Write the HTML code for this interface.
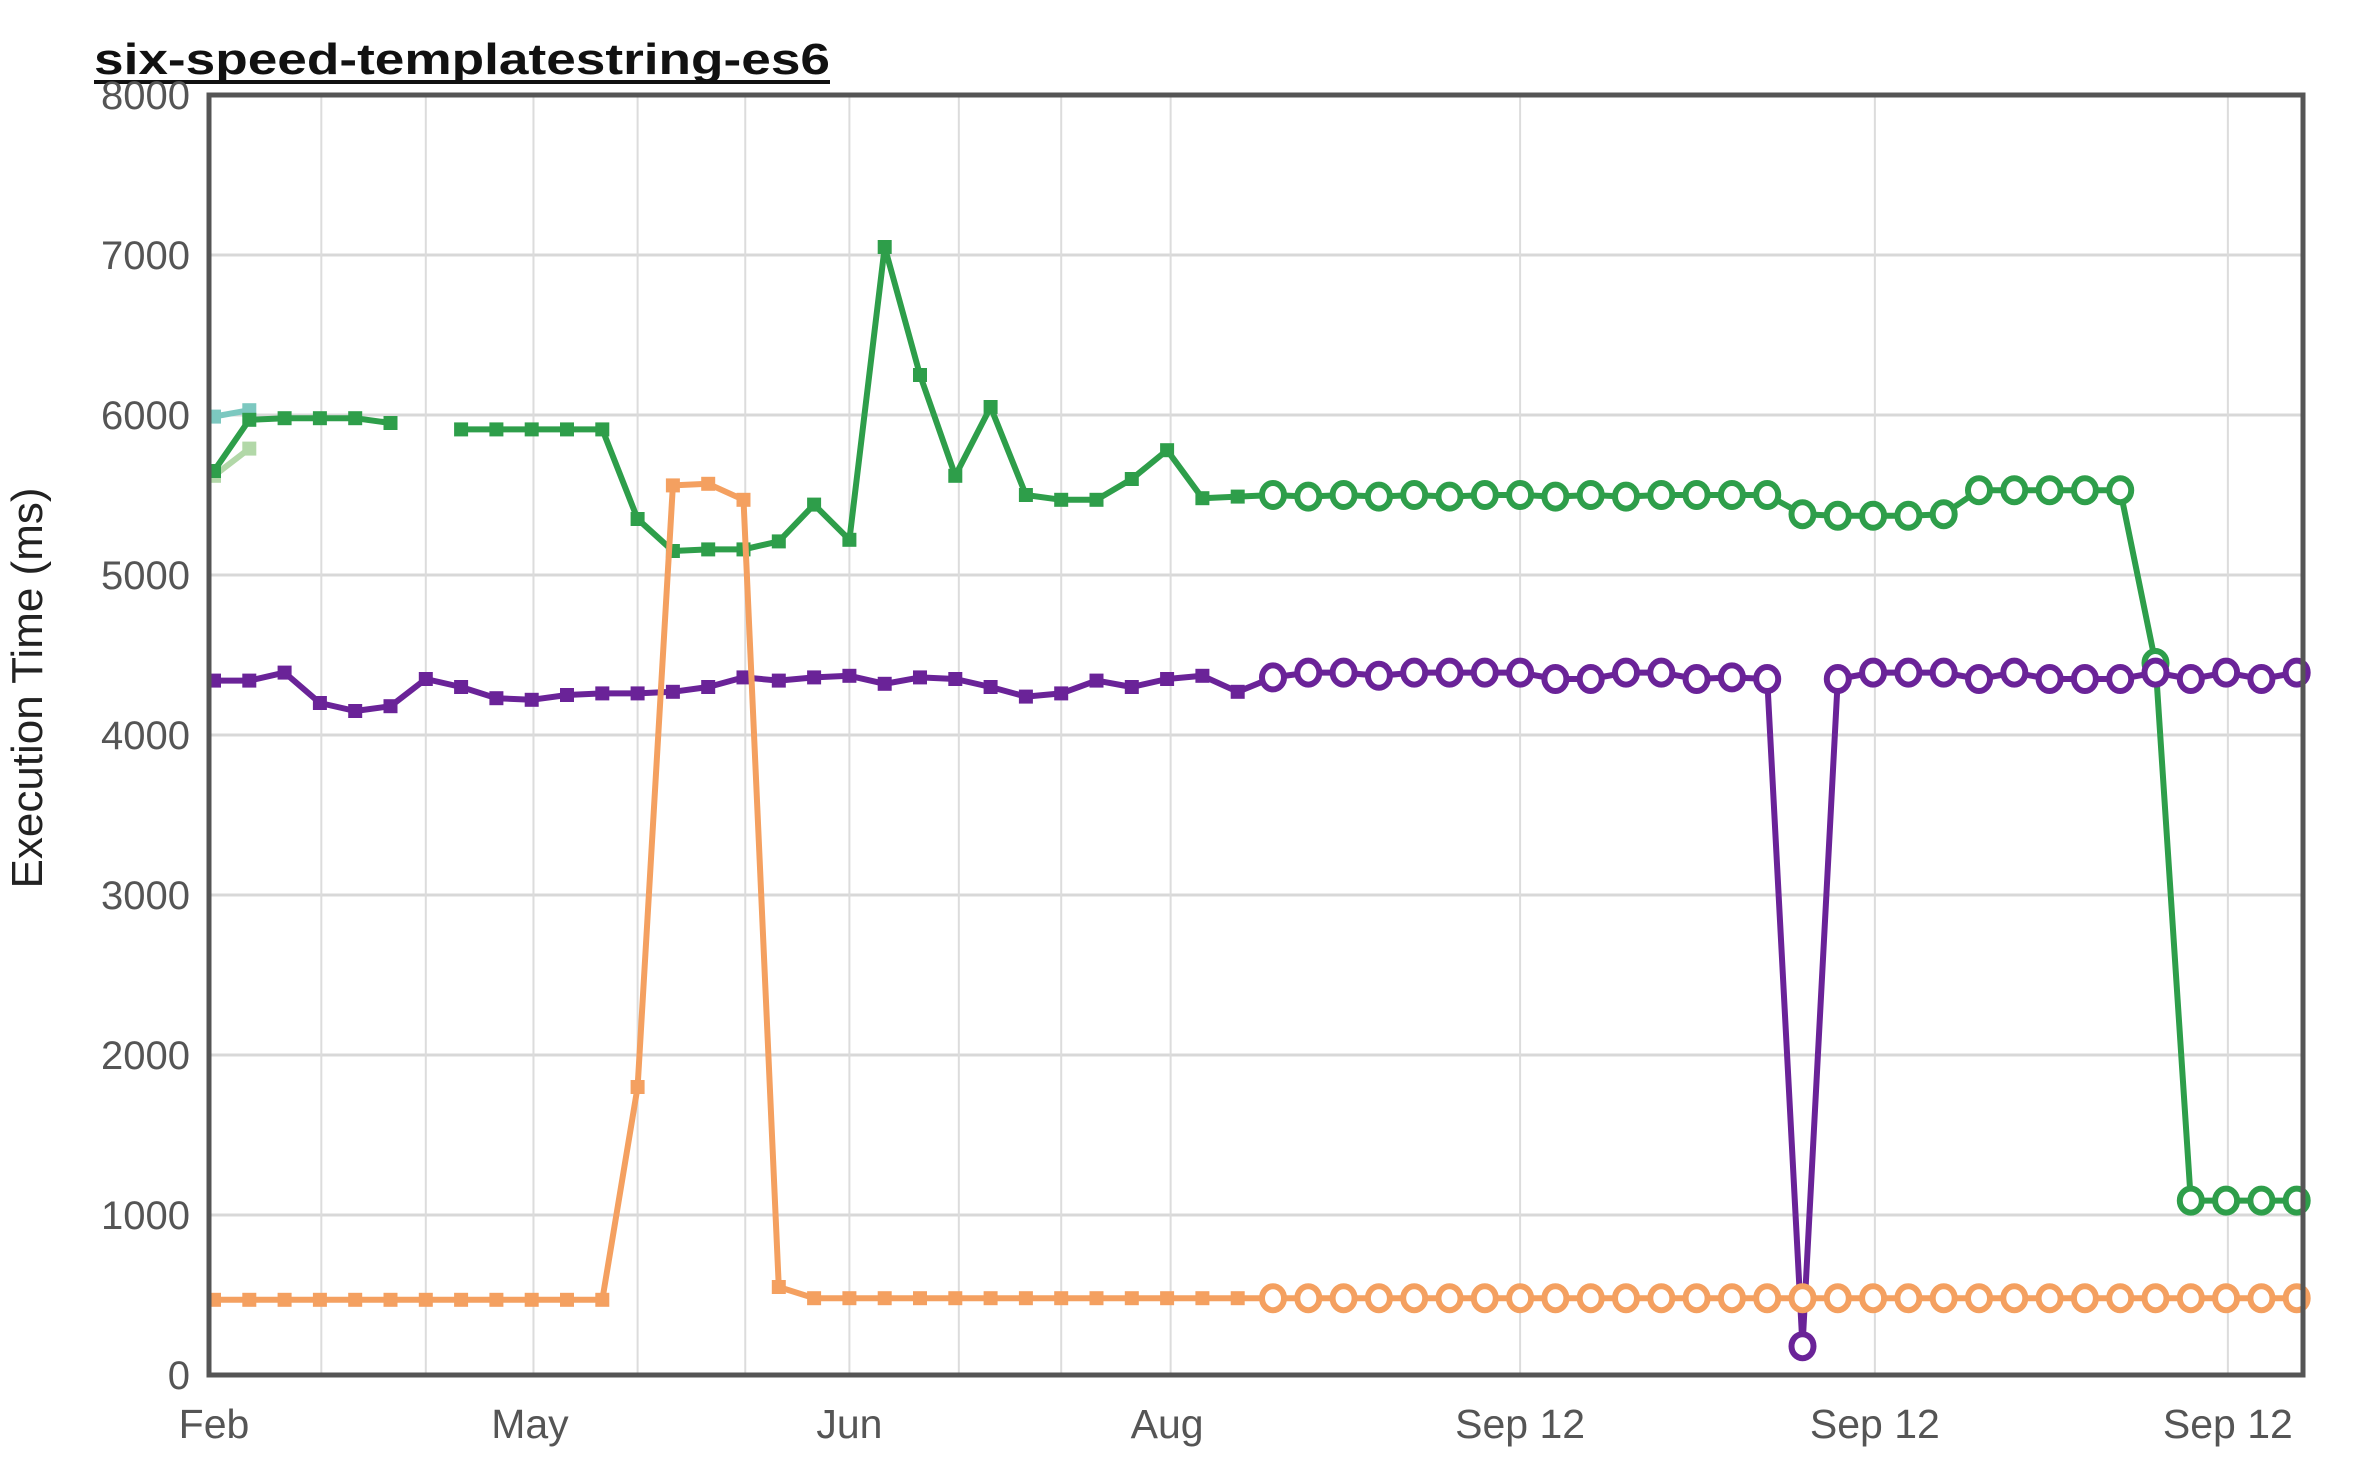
<!DOCTYPE html>
<html><head><meta charset="utf-8"><style>
html,body{margin:0;padding:0;background:#fff;width:2366px;height:1466px;overflow:hidden}
svg text{font-family:"Liberation Sans",Arial,sans-serif}
</style></head><body>
<svg id="chart" width="2366" height="1466" viewBox="0 0 2366 1466" xmlns="http://www.w3.org/2000/svg">
<text x="94" y="74" font-size="44" font-weight="bold" fill="#111" textLength="736" lengthAdjust="spacingAndGlyphs">six-speed-templatestring-es6</text>
<rect x="94" y="80" width="736" height="4" fill="#111"/>
<text transform="translate(42,688) rotate(-90)" text-anchor="middle" font-size="44" fill="#222">Execution Time (ms)</text>
<g id="grid"></g><g id="series"></g><g id="axes"></g>
</svg>
<script>
const yTicks=[0,1000,2000,3000,4000,5000,6000,7000,8000];
const xTickLabels=["Feb","May","Jun","Aug","Sep 12","Sep 12","Sep 12"];
const xTickIdx=[0,8.95,18,27,37,47.05,57.05];
const gridIdx=[3.04,6,9.05,12,15.05,18,21.1,24,27.1,37,47.05,57.05];
const orange=[470,470,470,470,470,470,470,470,470,470,470,470,1800,5560,5570,5470,550,480,480,480,480,480,480,480,480,480,480,480,480,480,480,480,480,480,480,480,480,480,480,480,480,480,480,480,480,480,480,480,480,480,480,480,480,480,480,480,480,480,480,480];
const purple=[4340,4340,4390,4200,4150,4180,4350,4300,4230,4220,4250,4260,4260,4270,4300,4360,4340,4360,4370,4320,4360,4350,4300,4240,4260,4340,4300,4350,4370,4270,4360,4390,4390,4370,4390,4390,4390,4390,4350,4350,4390,4390,4350,4360,4350,180,4350,4390,4390,4390,4350,4390,4350,4350,4350,4390,4350,4390,4350,4390];
const green=[5650,5970,5980,5980,5980,5950,null,5910,5910,5910,5910,5910,5350,5150,5160,5160,5210,5440,5220,7050,6250,5620,6050,5500,5470,5470,5600,5780,5480,5490,5500,5490,5500,5490,5500,5490,5500,5500,5490,5500,5490,5500,5500,5500,5500,5380,5370,5370,5370,5380,5530,5530,5530,5530,5530,4450,1090,1090,1090,1090];
const teal=[5990,6030];
const lightGreen=[5620,5790];
const circleStart=30;
const X0=209,X1=2303,Y0=1375,Y1=95;
const xs=i=>214+i*35.3;
const ys=v=>Y0-(v/8000)*(Y0-Y1);
const NS="http://www.w3.org/2000/svg";
function mk(tag,attrs,parent){const e=document.createElementNS(NS,tag);for(const k in attrs)e.setAttribute(k,attrs[k]);parent.appendChild(e);return e;}
const grid=document.getElementById('grid'),ser=document.getElementById('series'),axes=document.getElementById('axes');
yTicks.forEach(v=>{
 if(v>0&&v<8000){const l=mk('line',{x1:X0,x2:X1,y1:ys(v),y2:ys(v),stroke:'#d8d8d8','stroke-width':3},grid);
 
 }
 const t=mk('text',{x:190,y:ys(v)+14,'text-anchor':'end','font-size':40,fill:'#555'},axes);t.textContent=v;
 
 
});
gridIdx.forEach(i=>{const l=mk('line',{x1:xs(i),x2:xs(i),y1:Y1,y2:Y0,stroke:'#dcdcdc','stroke-width':2},grid);
 
 });
xTickLabels.forEach((s,k)=>{const t=mk('text',{x:xs(xTickIdx[k]),y:1438,'text-anchor':'middle','font-size':41,fill:'#555'},axes);t.textContent=s;
 
 });
const fr=mk('rect',{x:X0,y:Y1,width:X1-X0,height:Y0-Y1,fill:'none',stroke:'#555','stroke-width':5},axes);


function drawSeries(arr,color,name,markers){
 const g=mk('g',{},ser);
 
 
 let d='',pen=false;
 arr.forEach((v,i)=>{if(v==null){pen=false;return;}d+=(pen?'L':'M')+xs(i)+' '+ys(v)+' ';pen=true;});
 const p=mk('path',{d:d,fill:'none',stroke:color,'stroke-width':6,'stroke-linejoin':'round'},g);
 
 
 if(!markers)return;
 arr.forEach((v,i)=>{if(v==null)return;
  if(i<circleStart){const r=mk('rect',{x:xs(i)-7,y:ys(v)-7,width:14,height:14,fill:color},g);
   
   }
  else{const c=mk('ellipse',{cx:xs(i),cy:ys(v),rx:11,ry:12,fill:'#fff',stroke:color,'stroke-width':6},g);
   
   }
 });
}
drawSeries(teal,'#7cc8c0','teal',true);
drawSeries(lightGreen,'#b2d8a8','light-green',true);
drawSeries(green,'#2e9e4a','green',true);
drawSeries(purple,'#6a2398','purple',true);
drawSeries(orange,'#f4a060','orange',true);
</script>
</body></html>
